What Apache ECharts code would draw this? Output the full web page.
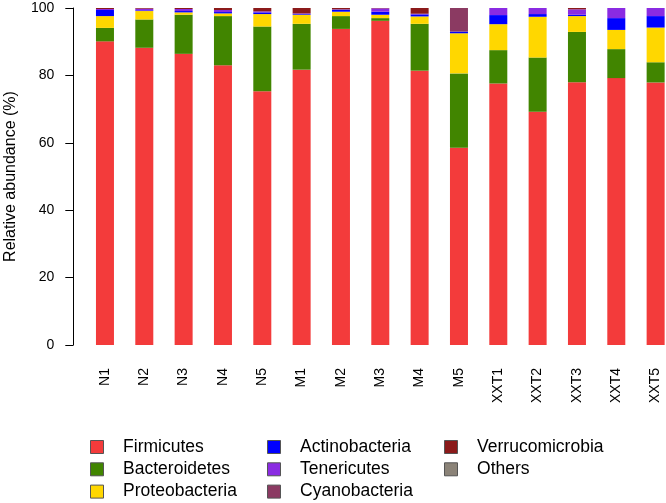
<!DOCTYPE html>
<html>
<head>
<meta charset="utf-8">
<script src="https://cdn.jsdelivr.net/npm/echarts@6/dist/echarts.min.js"></script>
<style>html,body{margin:0;padding:0;background:#fff;}#c{width:666px;height:503px;}</style>
</head>
<body>
<div id="c"></div>
<script>
const categories = ['N1','N2','N3','N4','N5','M1','M2','M3','M4','M5','XXT1','XXT2','XXT3','XXT4','XXT5'];
const yTicks = [0, 20, 40, 60, 80, 100];
const firmicutes      = [90.1, 88.2, 86.4, 83.0, 75.3, 81.7, 93.8, 96.2, 81.4, 58.5, 77.6, 69.2, 78.0, 79.2, 77.9];
const bacteroidetes   = [4.0, 8.4, 11.6, 14.6, 19.2, 13.6, 3.8, 0.8, 13.9, 22.1, 9.9, 16.1, 14.9, 8.6, 6.0];
const proteobacteria  = [3.5, 2.5, 0.7, 0.8, 3.7, 2.7, 1.3, 1.0, 2.2, 11.9, 7.7, 12.1, 4.7, 5.7, 10.3];
const actinobacteria  = [1.8, 0.2, 0.4, 0.4, 0.5, 0.2, 0.6, 0.9, 0.6, 0.5, 2.7, 0.8, 0.4, 3.5, 3.4];
const tenericutes     = [0.3, 0.5, 0.6, 0.6, 0.3, 0.2, 0.1, 1.0, 0.2, 0.0, 2.1, 1.8, 1.6, 3.0, 2.4];
const cyanobacteria   = [0, 0, 0, 0, 0, 0, 0, 0, 0, 7.0, 0, 0, 0, 0, 0];
const verrucomicrobia = [0.3, 0.2, 0.3, 0.6, 1.0, 1.6, 0.4, 0.1, 1.7, 0, 0, 0, 0.4, 0, 0];
const others          = [0, 0, 0, 0, 0, 0, 0, 0, 0, 0, 0, 0, 0, 0, 0];

const seriesNames = ['Firmicutes','Bacteroidetes','Proteobacteria','Actinobacteria','Tenericutes','Cyanobacteria','Verrucomicrobia','Others'];
const seriesData = [firmicutes, bacteroidetes, proteobacteria, actinobacteria, tenericutes, cyanobacteria, verrucomicrobia, others];
const colors = ['#F33B3B','#418500','#FFD700','#0000FF','#8A2BE2','#8B3A62','#8B1A1A','#8B8378'];

const FONT = '"Liberation Sans", Arial, sans-serif';
const chart = echarts.init(document.getElementById('c'), null, {renderer: 'canvas'});

function legendCol(names, left) {
  return {
    orient: 'vertical',
    left: left,
    top: 438,
    padding: 0,
    data: names,
    itemWidth: 13,
    itemHeight: 13,
    itemGap: 4.3,
    selectedMode: false,
    icon: 'rect',
    itemStyle: {borderColor: '#555', borderWidth: 1},
    formatter: function (n) { return '   ' + n; },
    textStyle: {fontFamily: FONT, fontSize: 17.5, color: '#000', lineHeight: 18}
  };
}

chart.setOption({
  animation: false,
  color: colors,
  textStyle: {fontFamily: FONT},
  grid: {left: 85.3, top: 8, height: 337, width: 590, containLabel: false, outerBoundsMode: 'none'},
  legend: [
    legendCol(seriesNames.slice(0, 3), 90),
    legendCol(seriesNames.slice(3, 6), 267),
    legendCol(seriesNames.slice(6, 8), 444)
  ],
  xAxis: {
    type: 'category',
    data: categories,
    axisLine: {show: false},
    axisTick: {show: false},
    axisLabel: {rotate: 90, margin: 23, fontSize: 14, color: '#000', fontFamily: FONT}
  },
  yAxis: {
    type: 'value',
    min: yTicks[0],
    max: yTicks[yTicks.length - 1],
    interval: yTicks[1] - yTicks[0],
    offset: 12,
    name: 'Relative abundance (%)',
    nameLocation: 'middle',
    nameGap: 55,
    nameTextStyle: {fontSize: 16, color: '#000', fontFamily: FONT},
    axisLine: {show: true, lineStyle: {color: '#000', width: 1}},
    axisTick: {show: true, length: 8, lineStyle: {color: '#000'}},
    axisLabel: {margin: 19, fontSize: 14, color: '#000', fontFamily: FONT},
    splitLine: {show: false}
  },
  series: seriesNames.map((name, i) => ({
    name: name,
    type: 'bar',
    stack: 'total',
    barWidth: 18,
    data: seriesData[i],
    itemStyle: {color: colors[i]}
  }))
});
</script>
</body>
</html>
